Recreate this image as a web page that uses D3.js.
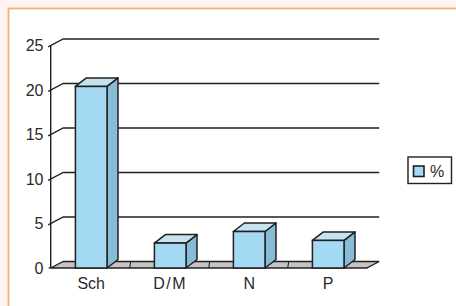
<!DOCTYPE html>
<html><head><meta charset="utf-8">
<script src="https://cdn.jsdelivr.net/npm/d3@7"></script>
<style>html,body{margin:0;padding:0;background:#fdf4f1;}svg{display:block;}</style>
</head><body>
<script>
const categories = ["Sch", "D/M", "N", "P"];
const values = [20.4, 2.8, 4.1, 3.1];
const yTicks = [0, 5, 10, 15, 20, 25];
const legendLabel = "%";

const W = 456, H = 306;
const svg = d3.select("body").append("svg").attr("width", W).attr("height", H);
const ink = "#231f20";
const txt = "#2a2a2a";
const font = "Liberation Sans, Arial, sans-serif";

// frame
svg.append("rect").attr("x", 8.5).attr("y", 8.5).attr("width", W).attr("height", H)
  .attr("fill", "#ffffff").attr("stroke", "#f6b36c").attr("stroke-width", 1.8);

const x0 = 50.7, x1 = 366.7;
const wdx = 12.5, wdy = -6.5;   // wall depth
const bdx = 11, bdy = -8.5;     // bar depth
const y = d3.scaleLinear().domain([0, 25]).range([268, 45.5]);
const x = d3.scaleBand().domain(categories).range([x0, x1]).paddingInner(0.6).paddingOuter(0.3);
const xOuter = d3.scaleBand().domain(categories).range([x0, x1]);

const g = svg.append("g");

// gridlines (back wall) with diagonals
yTicks.filter(v => v > 0).forEach(v => {
  const yy = y(v);
  g.append("path").attr("d", `M${x0 - 2.5},${yy + 1.3} L${x0 + wdx},${yy + wdy} L${x1 + wdx},${yy + wdy}`)
    .attr("fill", "none").attr("stroke", ink).attr("stroke-width", 1.3);
});

// floor
const yb = y(0);
g.append("path").attr("d", `M${x0},${yb} L${x1},${yb} L${x1 + wdx},${yb + wdy} L${x0 + wdx},${yb + wdy} Z`)
  .attr("fill", "#c4c4c4").attr("stroke", ink).attr("stroke-width", 1.3);
categories.slice(1).forEach(c => {
  const xb = xOuter(c);
  g.append("line").attr("x1", xb).attr("x2", xb + 1).attr("y1", yb).attr("y2", yb + wdy)
    .attr("stroke", ink).attr("stroke-width", 1.1);
});

// y axis
g.append("line").attr("x1", x0).attr("x2", x0).attr("y1", y(25)).attr("y2", yb)
  .attr("stroke", ink).attr("stroke-width", 1.4);
g.append("line").attr("x1", x0 - 2).attr("x2", x0).attr("y1", yb).attr("y2", yb)
  .attr("stroke", ink).attr("stroke-width", 1.4);

// y labels
g.selectAll("text.yl").data(yTicks).enter().append("text").attr("class", "yl")
  .attr("x", 43.5).attr("y", d => y(d)).attr("dy", "0.36em").attr("text-anchor", "end")
  .attr("font-family", font).attr("font-size", 16).attr("fill", txt)
  .text(d => d);

// bars
const bars = g.selectAll("g.bar").data(categories.map((c, i) => ({c, v: values[i]}))).enter()
  .append("g").attr("class", "bar");
bars.each(function(d) {
  const s = d3.select(this);
  const xl = x(d.c) + 1, xr = xl + x.bandwidth(), yt = y(d.v);
  const sw = 1.5;
  s.append("path").attr("d", `M${xr},${yb} L${xr + bdx},${yb + bdy} L${xr + bdx},${yt + bdy} L${xr},${yt} Z`)
    .attr("fill", "#87bcd8").attr("stroke", ink).attr("stroke-width", sw).attr("stroke-linejoin", "round");
  s.append("path").attr("d", `M${xl},${yt} L${xl + bdx},${yt + bdy} L${xr + bdx},${yt + bdy} L${xr},${yt} Z`)
    .attr("fill", "#c6e3f0").attr("stroke", ink).attr("stroke-width", sw).attr("stroke-linejoin", "round");
  s.append("rect").attr("x", xl).attr("y", yt).attr("width", xr - xl).attr("height", yb - yt)
    .attr("fill", "#a3d9f3").attr("stroke", ink).attr("stroke-width", sw);
});

// category labels
g.selectAll("text.xl").data(categories).enter().append("text").attr("class", "xl")
  .attr("x", d => x(d) + 1 + x.bandwidth() / 2).attr("y", 283.5).attr("dy", "0.36em")
  .attr("text-anchor", "middle")
  .attr("font-family", font).attr("font-size", 16).attr("fill", txt)
  .attr("letter-spacing", d => d === "D/M" ? 1.5 : 0)
  .text(d => d);

// legend
const lg = svg.append("g");
lg.append("rect").attr("x", 408).attr("y", 157).attr("width", 43.5).attr("height", 26.5)
  .attr("fill", "#fff").attr("stroke", ink).attr("stroke-width", 1.4);
lg.append("rect").attr("x", 413.5).attr("y", 166).attr("width", 10.5).attr("height", 10.5)
  .attr("fill", "#a3d9f3").attr("stroke", ink).attr("stroke-width", 1.6);
lg.append("text").attr("x", 430).attr("y", 171.5).attr("dy", "0.36em")
  .attr("font-family", font).attr("font-size", 16).attr("fill", txt)
  .text(legendLabel);
</script>
</body></html>
